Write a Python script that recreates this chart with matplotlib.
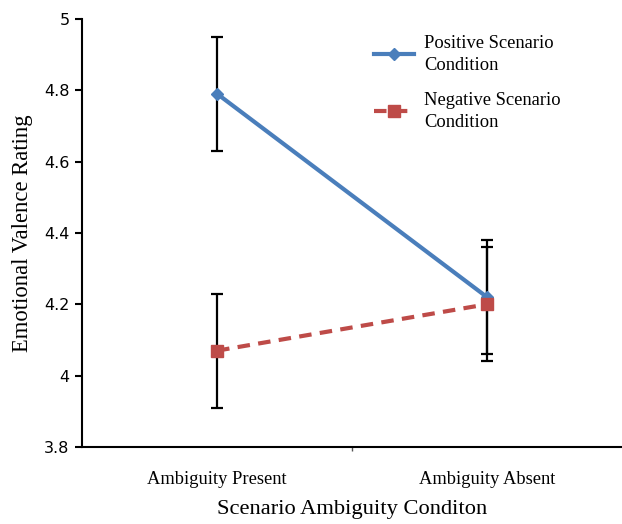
import matplotlib.pyplot as plt

categories = ["Ambiguity Present", "Ambiguity Absent"]
positive = [4.79, 4.22]
positive_err = [0.16, 0.16]
negative = [4.07, 4.20]
negative_err = [0.16, 0.16]
yticks = [3.8, 4.0, 4.2, 4.4, 4.6, 4.8, 5.0]
ytick_labels = ["3.8", "4", "4.2", "4.4", "4.6", "4.8", "5"]

serif = ["Liberation Serif", "DejaVu Serif"]
blue = "#4A7EBB"
red = "#BE4B48"

fig = plt.figure(figsize=(6.22, 5.24), dpi=100)
ax = fig.add_axes([0.132, 0.147, 0.868, 0.817])

x = list(range(len(categories)))

ax.errorbar(x, positive, yerr=positive_err, fmt="none", ecolor="black",
            elinewidth=1.6, capsize=4.5, capthick=1.6, zorder=2)
ax.errorbar(x, negative, yerr=negative_err, fmt="none", ecolor="black",
            elinewidth=1.6, capsize=4.5, capthick=1.6, zorder=2)

ax.plot(x, positive, color=blue, linewidth=3, marker="D", markersize=6,
        label="Positive Scenario\nCondition", zorder=3)
ax.plot(x, negative, color=red, linewidth=3, linestyle=(0, (3, 2)),
        marker="s", markersize=8, label="Negative Scenario\nCondition", zorder=4)

ax.set_xlim(-0.5, 1.5)
ax.set_ylim(3.8, 5.0)
ax.set_yticks(yticks)
ax.set_yticklabels(ytick_labels, fontsize=11.5)
ax.tick_params(axis="y", direction="out", length=5, width=1.5, pad=4)

ax.set_xticks(x)
ax.set_xticklabels(categories, fontsize=13.3, family=serif)
ax.tick_params(axis="x", length=0, pad=17)
ax.set_xticks([0.5], minor=True)
ax.tick_params(axis="x", which="minor", direction="out", length=3, width=1, color="#555555")

ax.spines["top"].set_visible(False)
ax.spines["right"].set_visible(False)
ax.spines["left"].set_linewidth(1.5)
ax.spines["bottom"].set_linewidth(1.5)

ax.set_xlabel("Scenario Ambiguity Conditon", fontsize=16.2, family=serif, labelpad=9)
ax.set_ylabel("Emotional Valence Rating", fontsize=16.3, family=serif, labelpad=8)

leg = ax.legend(loc="upper left", bbox_to_anchor=(0.54, 0.962), frameon=False,
                prop={"family": serif, "size": 13.3}, handlelength=2.2,
                handletextpad=0.55, labelspacing=1.0, borderpad=0, borderaxespad=0)
for t in leg.get_texts():
    t.set_linespacing(1.35)

fig.savefig("out.png", dpi=100)
